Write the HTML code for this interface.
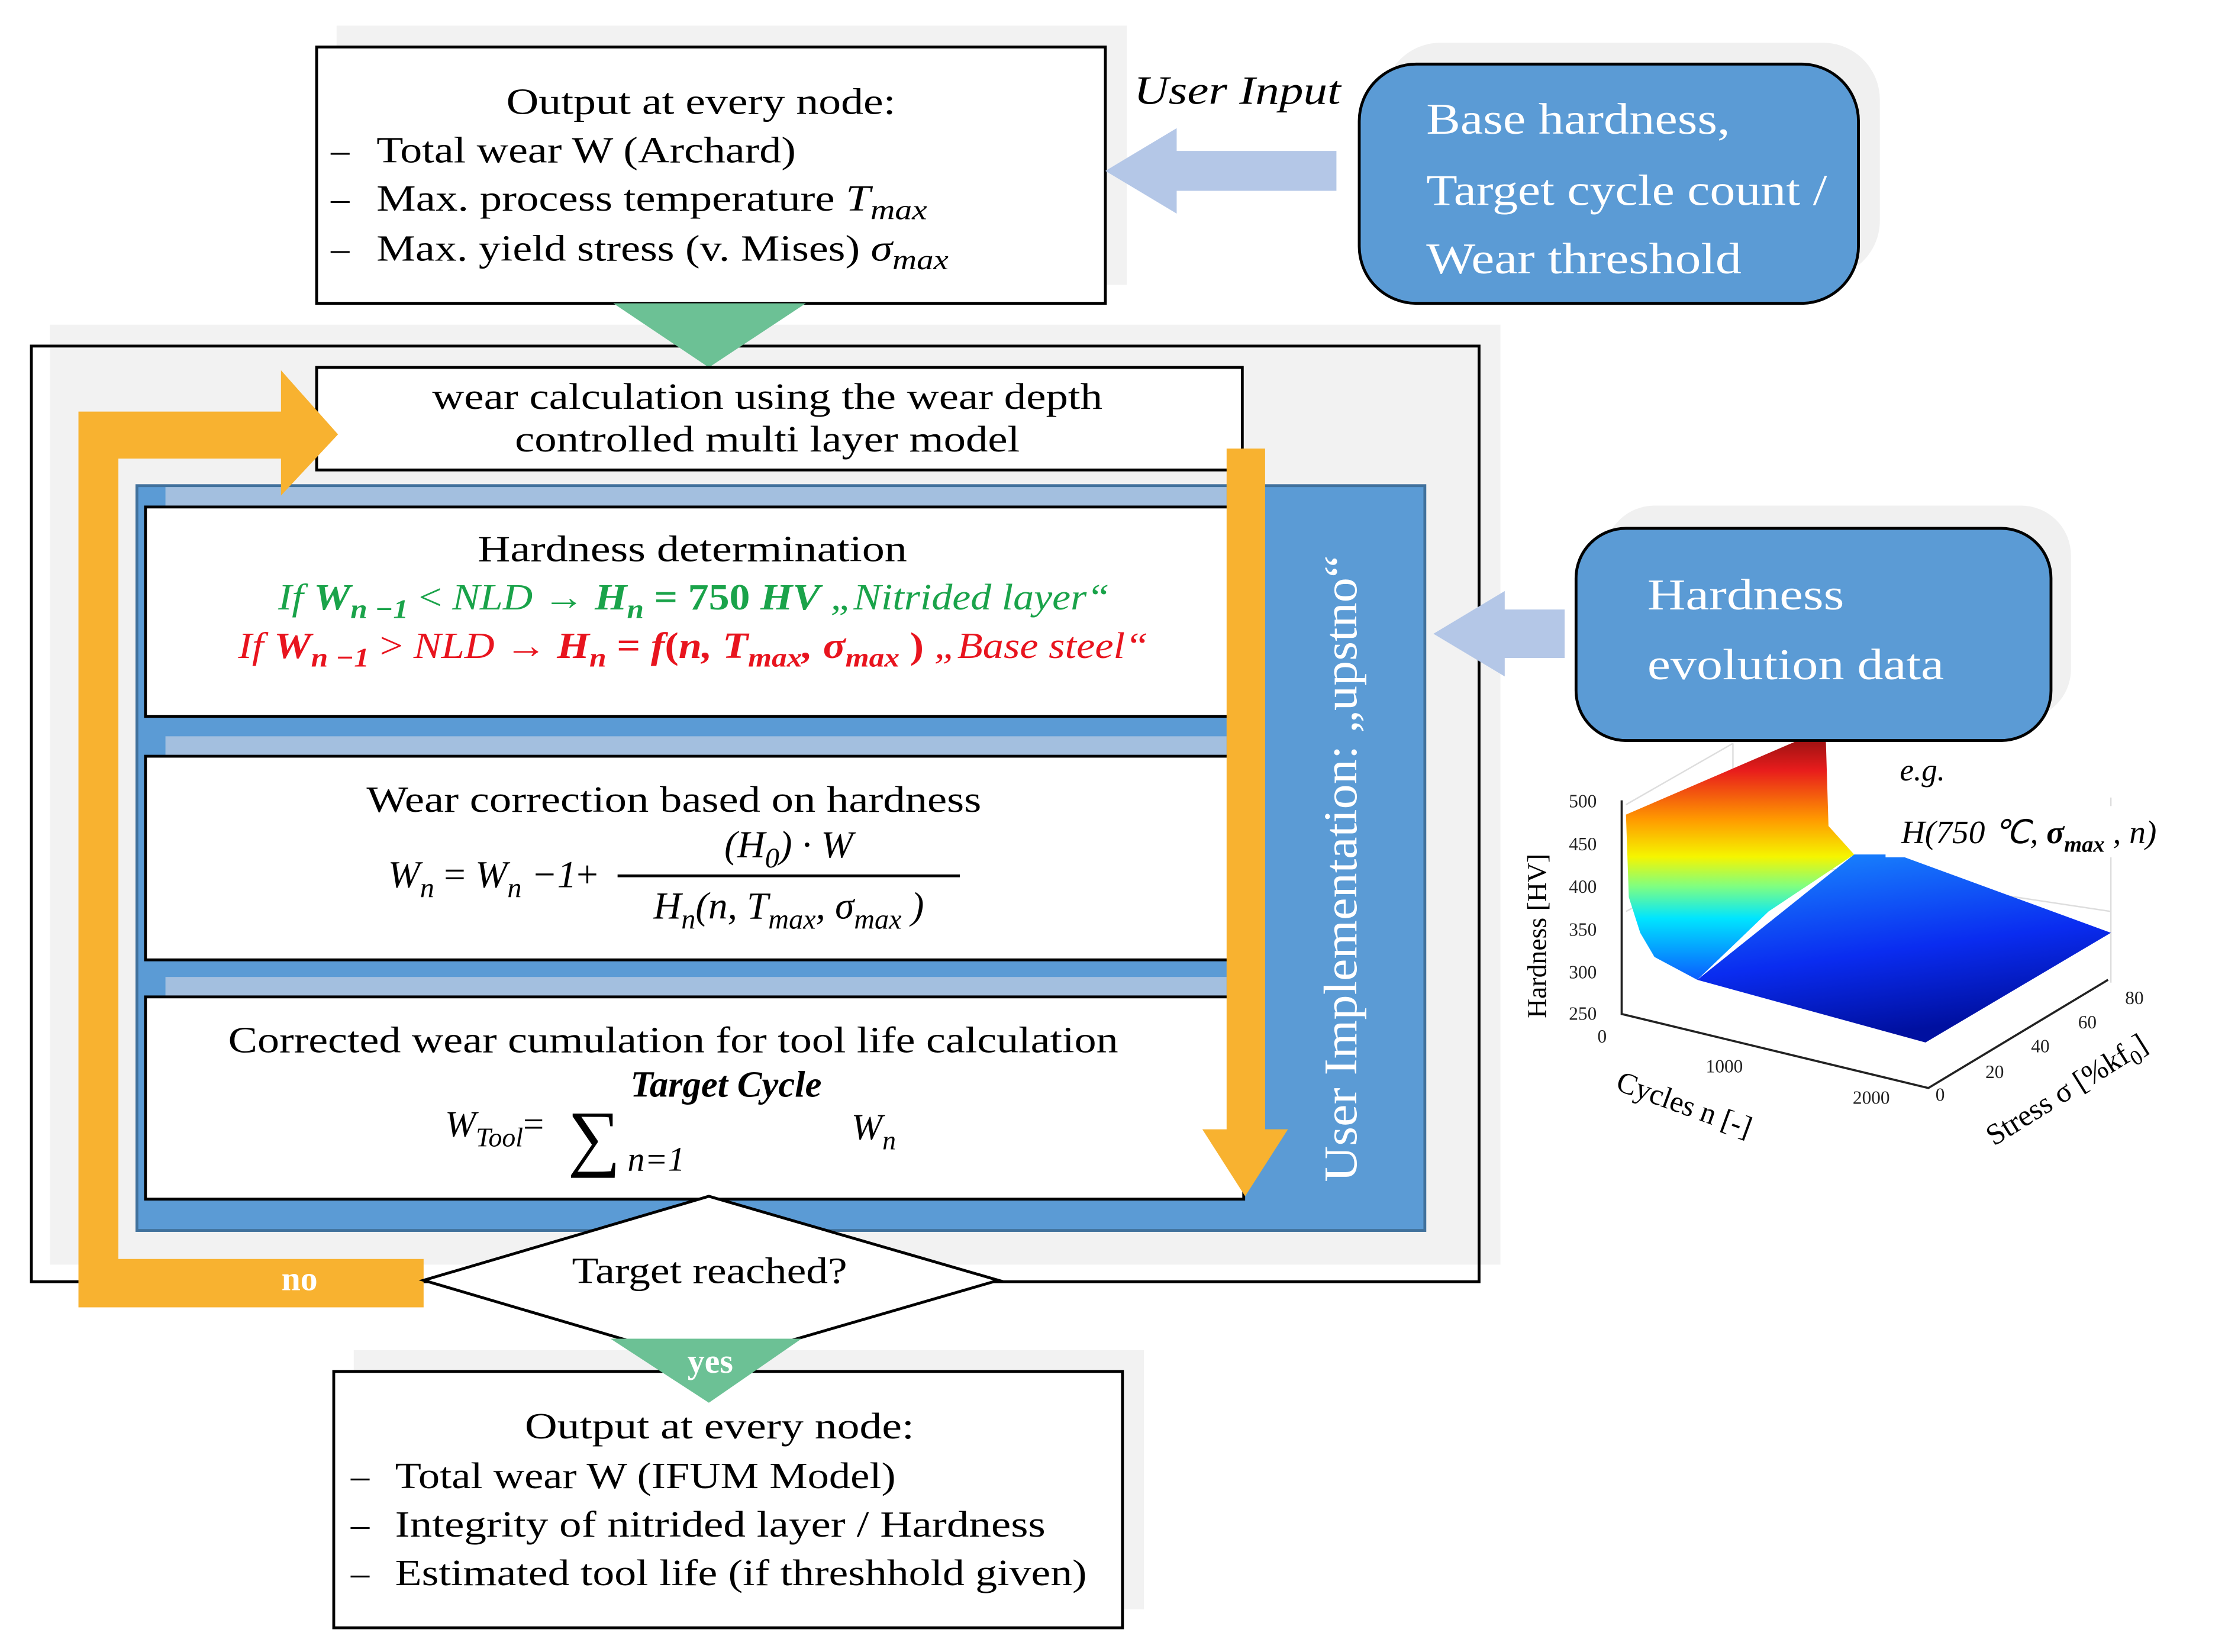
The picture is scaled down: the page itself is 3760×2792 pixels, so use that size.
<!DOCTYPE html>
<html><head><meta charset="utf-8"><style>
html,body{margin:0;padding:0;background:#fff;}
svg{display:block;}
text{font-family:"Liberation Serif",serif;}
.it{font-style:italic;}
</style></head><body>
<svg width="3760" height="2792" viewBox="0 0 1560 1160" preserveAspectRatio="none" xmlns="http://www.w3.org/2000/svg">
<defs>
<linearGradient id="wall" x1="0" y1="0" x2="0" y2="1">
<stop offset="0" stop-color="#8b1010"/><stop offset="0.15" stop-color="#e81c1c"/><stop offset="0.35" stop-color="#ff9a00"/><stop offset="0.5" stop-color="#f5f500"/><stop offset="0.62" stop-color="#80ff80"/><stop offset="0.75" stop-color="#00e5ff"/><stop offset="1" stop-color="#0a5cff"/></linearGradient>
<linearGradient id="floor" x1="0" y1="0" x2="0.3" y2="1">
<stop offset="0" stop-color="#1a8fff"/><stop offset="0.6" stop-color="#0a2cf0"/><stop offset="1" stop-color="#0010a0"/></linearGradient>
</defs>
<rect x="236" y="18" width="554" height="182" fill="#f2f2f2"/>
<rect x="222" y="33" width="553" height="180" fill="#fff" stroke="#000" stroke-width="2"/>
<text x="355" y="80" font-size="26" textLength="273" lengthAdjust="spacingAndGlyphs">Output at every node:</text>
<g font-size="26"><text x="232" y="114">–</text><text x="264" y="114" textLength="294" lengthAdjust="spacingAndGlyphs">Total wear W (Archard)</text>
<text x="232" y="148">–</text><text x="264" y="148" textLength="386" lengthAdjust="spacingAndGlyphs">Max. process temperature <tspan class="it">T</tspan><tspan class="it" font-size="20" dy="6">max</tspan></text>
<text x="232" y="183">–</text><text x="264" y="183" textLength="401" lengthAdjust="spacingAndGlyphs">Max. yield stress (v. Mises) <tspan class="it">σ</tspan><tspan class="it" font-size="20" dy="6">max</tspan></text></g>
<text x="795" y="73" font-size="28" class="it" textLength="145" lengthAdjust="spacingAndGlyphs">User Input</text>
<polygon points="937,106 825,106 825,90 775,120 825,150 825,134 937,134" fill="#b4c7e7"/>
<rect x="970" y="30" width="348" height="165" rx="40" fill="#f0f0f0"/>
<rect x="953" y="45" width="350" height="168" rx="40" fill="#5b9bd5" stroke="#000" stroke-width="2"/>
<g fill="#fff" font-size="31"><text x="1000" y="94" textLength="213" lengthAdjust="spacingAndGlyphs">Base hardness,</text><text x="1000" y="144" textLength="281" lengthAdjust="spacingAndGlyphs">Target cycle count /</text><text x="1000" y="192" textLength="221" lengthAdjust="spacingAndGlyphs">Wear threshold</text></g>
<rect x="35" y="228" width="1017" height="660" fill="#f2f2f2"/>
<rect x="22" y="243" width="13" height="657" fill="#fff"/>
<rect x="22" y="243" width="1015" height="657" fill="none" stroke="#000" stroke-width="2"/>
<polygon points="430,213 565,213 497,258" fill="#6cc195"/>
<rect x="222" y="258" width="649" height="72" fill="#fff" stroke="#000" stroke-width="2"/>
<text x="303" y="287" font-size="26" textLength="470" lengthAdjust="spacingAndGlyphs">wear calculation using the wear depth</text>
<text x="361" y="317" font-size="26" textLength="354" lengthAdjust="spacingAndGlyphs">controlled multi layer model</text>
<rect x="96" y="341" width="903" height="523" fill="#5b9bd5" stroke="#41719c" stroke-width="2"/>
<rect x="116" y="342" width="744" height="14" fill="#a3bfdf"/>
<rect x="116" y="517" width="744" height="14" fill="#a3bfdf"/>
<rect x="116" y="686" width="744" height="14" fill="#a3bfdf"/>
<rect x="102" y="356" width="760" height="147" fill="#fff" stroke="#000" stroke-width="2"/>
<rect x="102" y="531" width="760" height="143" fill="#fff" stroke="#000" stroke-width="2"/>
<rect x="102" y="700" width="770" height="142" fill="#fff" stroke="#000" stroke-width="2"/>
<text x="335" y="394" font-size="26" textLength="301" lengthAdjust="spacingAndGlyphs">Hardness determination</text>
<text x="195" y="428" font-size="26" fill="#1aa34a" textLength="583" lengthAdjust="spacingAndGlyphs"><tspan class="it">If </tspan><tspan class="it" font-weight="bold">W</tspan><tspan class="it" font-weight="bold" font-size="19" dy="6">n −1</tspan><tspan dy="-6"> &lt; </tspan><tspan class="it">NLD → </tspan><tspan class="it" font-weight="bold">H</tspan><tspan class="it" font-weight="bold" font-size="19" dy="6">n</tspan><tspan dy="-6" font-weight="bold"> = 750 </tspan><tspan class="it" font-weight="bold">HV</tspan><tspan class="it"> „Nitrided layer“</tspan></text>
<text x="167" y="462" font-size="26" fill="#e8141e" textLength="638" lengthAdjust="spacingAndGlyphs"><tspan class="it">If </tspan><tspan class="it" font-weight="bold">W</tspan><tspan class="it" font-weight="bold" font-size="19" dy="6">n −1</tspan><tspan dy="-6"> &gt; </tspan><tspan class="it">NLD → </tspan><tspan class="it" font-weight="bold">H</tspan><tspan class="it" font-weight="bold" font-size="19" dy="6">n</tspan><tspan dy="-6" font-weight="bold"> = </tspan><tspan class="it" font-weight="bold">f</tspan><tspan font-weight="bold">(</tspan><tspan class="it" font-weight="bold">n, T</tspan><tspan class="it" font-weight="bold" font-size="19" dy="6">max</tspan><tspan dy="-6" font-weight="bold" class="it">, σ</tspan><tspan class="it" font-weight="bold" font-size="19" dy="6">max</tspan><tspan dy="-6" font-weight="bold"> )</tspan><tspan class="it"> „Base steel“</tspan></text>
<text x="257" y="570" font-size="26" textLength="431" lengthAdjust="spacingAndGlyphs">Wear correction based on hardness</text>
<text x="272" y="623" font-size="27" class="it">W<tspan font-size="20" dy="7">n</tspan><tspan dy="-7" font-style="normal"> = </tspan>W<tspan font-size="20" dy="7">n</tspan><tspan dy="-7"> −1</tspan><tspan font-style="normal">+</tspan></text>
<text x="553" y="602" font-size="27" text-anchor="middle" class="it">(H<tspan font-size="20" dy="7">0</tspan><tspan dy="-7">) · W</tspan></text>
<line x1="433" y1="615" x2="673" y2="615" stroke="#000" stroke-width="2"/>
<text x="553" y="645" font-size="27" text-anchor="middle" class="it">H<tspan font-size="20" dy="7">n</tspan><tspan dy="-7">(n, T</tspan><tspan font-size="20" dy="7">max</tspan><tspan dy="-7">, σ</tspan><tspan font-size="20" dy="7">max</tspan><tspan dy="-7"> )</tspan></text>
<text x="160" y="739" font-size="26" textLength="624" lengthAdjust="spacingAndGlyphs">Corrected wear cumulation for tool life calculation</text>
<text x="312" y="798" font-size="26" class="it">W<tspan font-size="19" dy="7">Tool</tspan><tspan dy="-7" font-style="normal">=</tspan></text>
<text x="398" y="816" font-size="52">∑</text>
<text x="442" y="770" font-size="26" class="it" font-weight="bold">Target Cycle</text>
<text x="440" y="822" font-size="24" class="it">n=1</text>
<text x="597" y="800" font-size="26" class="it">W<tspan font-size="19" dy="7">n</tspan></text>
<text transform="translate(951,830) rotate(-90)" font-size="33" fill="#fff" textLength="440" lengthAdjust="spacingAndGlyphs">User Implementation: „upstno“</text>
<polygon points="860,315 887,315 887,793 903,793 873,840 843,793 860,793" fill="#f8b230"/>
<polygon points="55,289 197,289 197,260 237,305 197,348 197,322 83,322 83,884 297,884 297,918 55,918" fill="#f8b230"/>
<text x="210" y="906" font-size="24" fill="#fff" font-weight="bold" text-anchor="middle">no</text>
<rect x="248" y="948" width="554" height="182" fill="#f2f2f2"/>
<polygon points="297,899 497,840 700,899 497,958" fill="#fff" stroke="#000" stroke-width="2"/>
<text x="401" y="901" font-size="26" textLength="193" lengthAdjust="spacingAndGlyphs">Target reached?</text>
<rect x="234" y="963" width="553" height="180" fill="#fff" stroke="#000" stroke-width="2"/>
<polygon points="428,940 562,940 497,985" fill="#6cc195"/>
<text x="498" y="964" font-size="24" fill="#fff" font-weight="bold" text-anchor="middle">yes</text>
<text x="368" y="1010" font-size="26" textLength="273" lengthAdjust="spacingAndGlyphs">Output at every node:</text>
<g font-size="26"><text x="246" y="1045">–</text><text x="277" y="1045" textLength="351" lengthAdjust="spacingAndGlyphs">Total wear W (IFUM Model)</text>
<text x="246" y="1079">–</text><text x="277" y="1079" textLength="456" lengthAdjust="spacingAndGlyphs">Integrity of nitrided layer / Hardness</text>
<text x="246" y="1113">–</text><text x="277" y="1113" textLength="485" lengthAdjust="spacingAndGlyphs">Estimated tool life (if threshhold given)</text></g>
<rect x="1125" y="355" width="327" height="150" rx="35" fill="#f0f0f0"/>
<polygon points="1097,428 1055,428 1055,415 1005,445 1055,475 1055,462 1097,462" fill="#b4c7e7"/>
<g stroke="#ddd" stroke-width="1" fill="none">
<polyline points="1140,565 1215,522"/><polyline points="1140,640 1215,600 1480,640"/><polyline points="1215,522 1215,600"/><polyline points="1480,560 1480,690"/>
</g>
<polygon points="1190,688 1300,600 1330,600 1480,655 1350,732" fill="url(#floor)"/>
<polygon points="1140,572 1272,515 1280,515 1282,580 1300,600 1240,640 1190,688 1160,672 1150,655 1142,630" fill="url(#wall)"/>
<rect x="1105" y="371" width="333" height="149" rx="35" fill="#5b9bd5" stroke="#000" stroke-width="2"/>
<g fill="#fff" font-size="31"><text x="1155" y="428" textLength="138" lengthAdjust="spacingAndGlyphs">Hardness</text><text x="1155" y="477" textLength="208" lengthAdjust="spacingAndGlyphs">evolution data</text></g>
<g stroke="#222" stroke-width="1.5" fill="none">
<polyline points="1137,562 1137,712 1352,764 1478,688"/>
</g>
<g font-family="Liberation Sans" font-size="13" fill="#222">
<text x="1100" y="567">500</text><text x="1100" y="597">450</text><text x="1100" y="627">400</text><text x="1100" y="657">350</text><text x="1100" y="687">300</text><text x="1100" y="716">250</text>
<text x="1120" y="732">0</text><text x="1196" y="753">1000</text><text x="1299" y="775">2000</text><text x="1357" y="773">0</text>
<text x="1392" y="757">20</text><text x="1424" y="739">40</text><text x="1457" y="722">60</text><text x="1490" y="705">80</text>
</g>
<text transform="translate(1084,715) rotate(-90)" font-size="19">Hardness [HV]</text>
<text transform="translate(1132,765) rotate(20)" font-size="21">Cycles n [-]</text>
<text transform="translate(1398,805) rotate(-32)" font-size="21">Stress σ [%kf<tspan font-size="15" dy="5">0</tspan><tspan dy="-5">]</tspan></text>
<text x="1332" y="548" font-size="22" class="it">e.g.</text>
<rect x="1322" y="566" width="230" height="36" fill="#fff"/>
<text x="1333" y="592" font-size="23" class="it">H(750 ℃, <tspan font-weight="bold">σ</tspan><tspan font-weight="bold" font-size="16" dy="6">max</tspan><tspan dy="-6"> , n)</tspan></text>
</svg>
</body></html>
